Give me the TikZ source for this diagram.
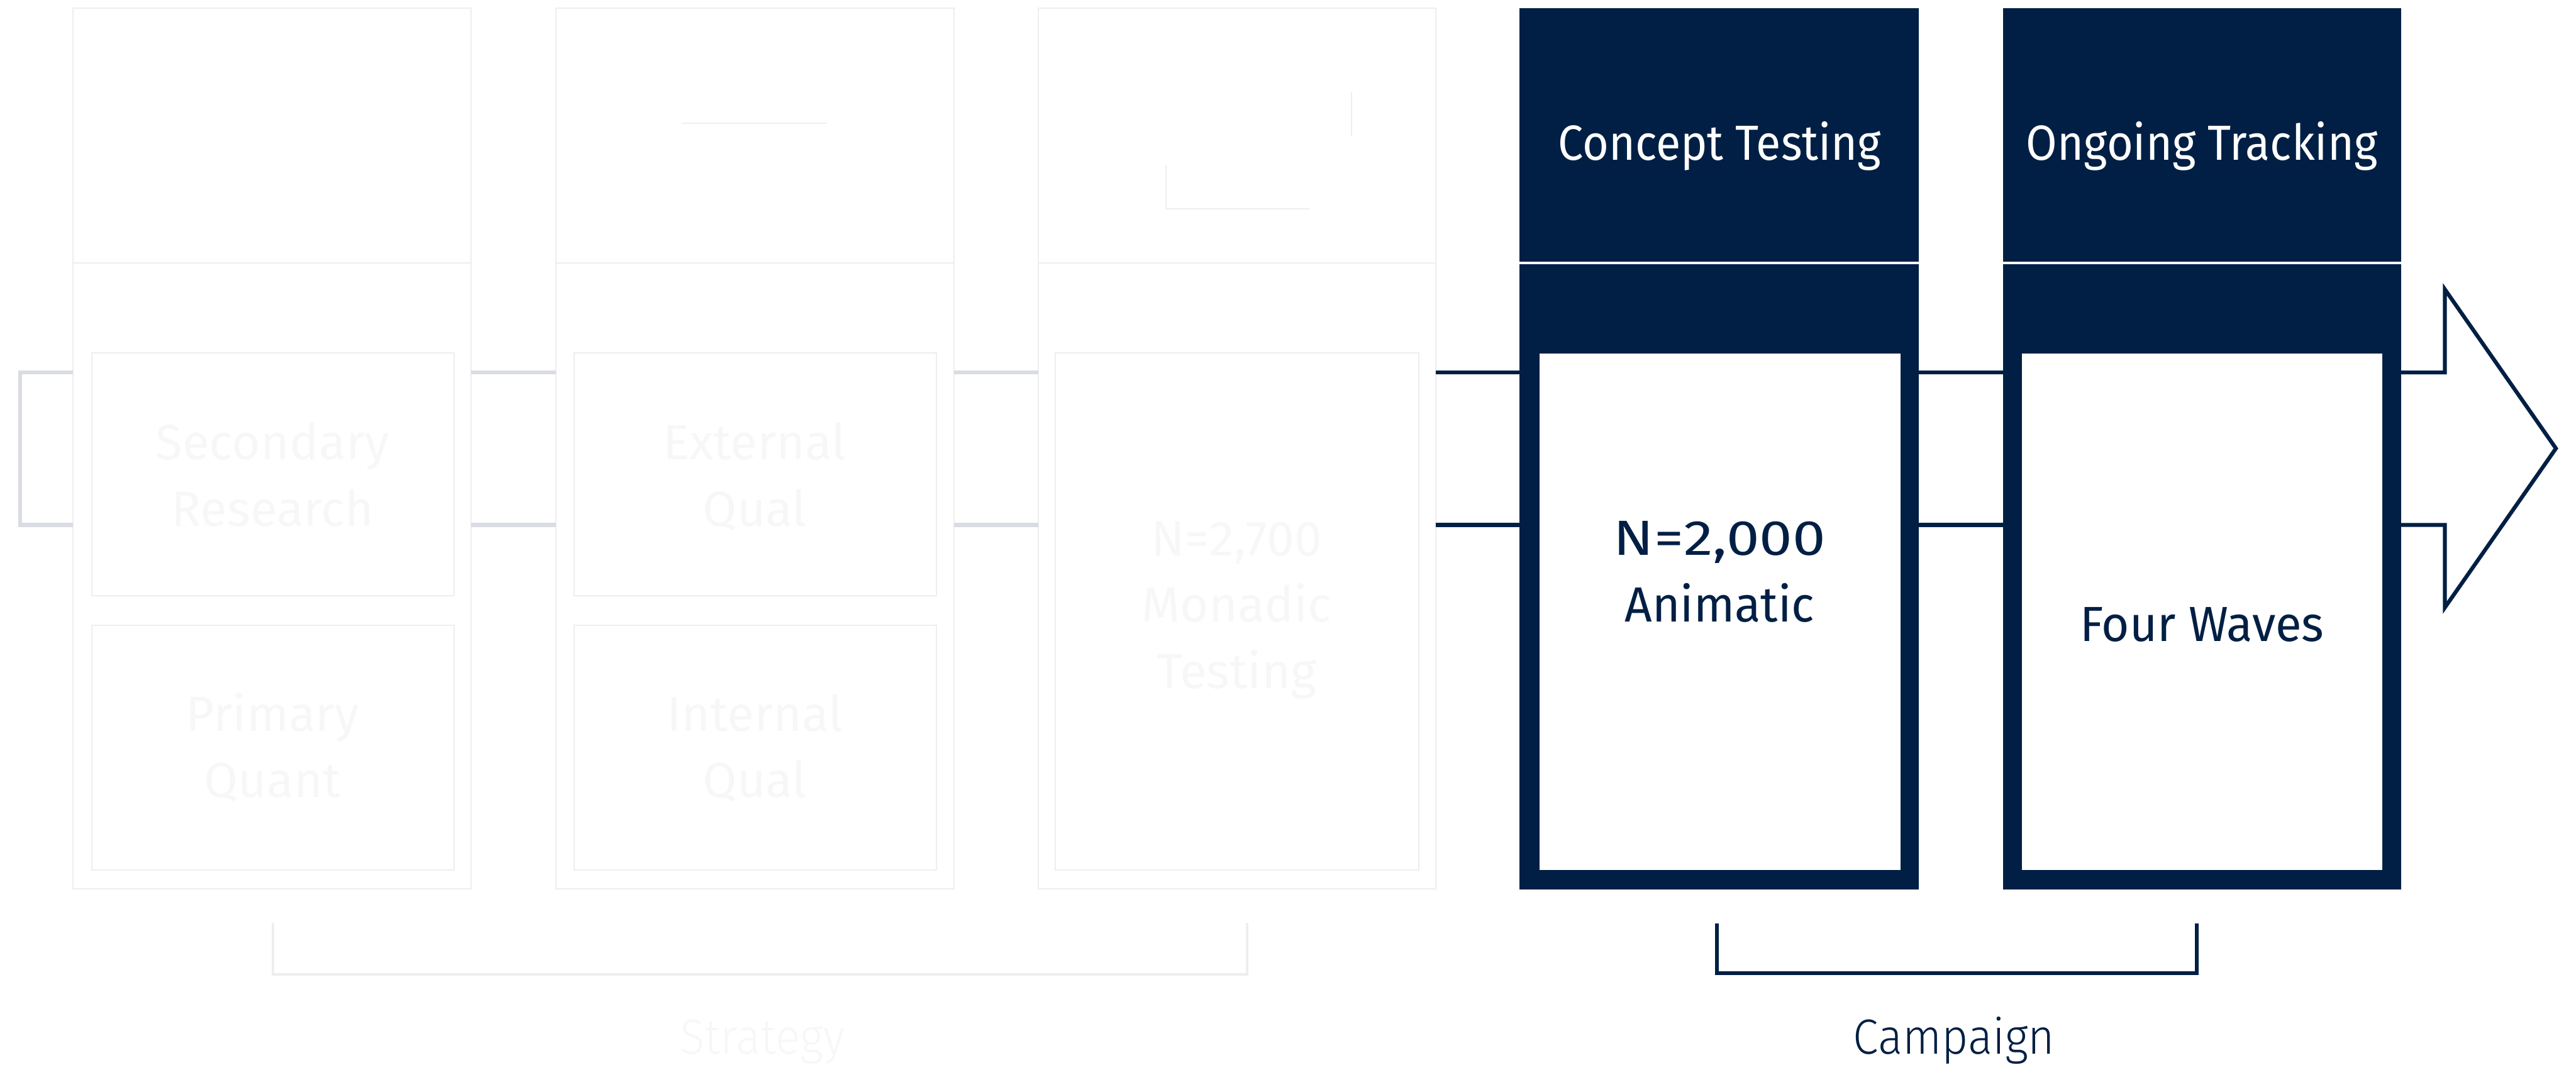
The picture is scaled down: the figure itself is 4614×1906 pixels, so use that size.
\documentclass[tikz,border=0pt]{standalone}
\usepackage{fontspec}
\setmainfont{Fira Sans}
\newfontfamily\lightfont{Fira Sans Light}[FakeStretch=0.93]
\newfontfamily\headfont{Fira Sans}[FakeStretch=0.915]
\newfontfamily\widefont{Fira Sans}[FakeStretch=1.2]
\newfontfamily\bodyfont{Fira Sans}[FakeStretch=0.97]
\definecolor{navy}{HTML}{011F44}
\definecolor{fadeline}{HTML}{EEEEEE}
\definecolor{fadelink}{HTML}{D9DCE3}
\definecolor{fadetext}{HTML}{F7F7F7}

\begin{document}
\begin{tikzpicture}[x=0.25pt,y=-0.25pt,
  pxbox/.style n args={4}{rectangle, anchor=north west, at={(#1,#2)},
    minimum width={(#3-#1)*0.25pt}, minimum height={(#4-#2)*0.25pt},
    inner sep=0pt, outer sep=0pt},
  darkblock/.style={fill=navy, draw=none},
  whitepanel/.style={fill=white, draw=none},
  fadeframe/.style={draw=fadeline, line width=0.6pt},
  bigtext/.style={font=\fontsize{22.1pt}{29.75pt}\selectfont, inner sep=0pt, anchor=base, align=center},
  headtext/.style={bigtext, font=\headfont\fontsize{22.1pt}{29.75pt}\selectfont, text=white},
  bodytext/.style={bigtext, font=\bodyfont\fontsize{22.1pt}{29.75pt}\selectfont, text=navy},
  fadetxt/.style={bigtext, text=fadetext},
  captext/.style={font=\lightfont\fontsize{22.1pt}{29.75pt}\selectfont, inner sep=0pt, anchor=base},
  darklink/.style={draw=navy, line width=1.75pt, line join=miter},
  fadelinkline/.style={draw=fadelink, line width=1.75pt},
  fadebracket/.style={draw=fadeline, line width=1pt},
]
\useasboundingbox (0,0) rectangle (4614,1906);

% heights of the two link lines
\coordinate (yA) at (0,667);
\coordinate (yB) at (0,940);

% ---------- faded strategy columns ----------
\node[pxbox={131}{15}{844}{1592}, fadeframe] (f1) {};
\node[pxbox={996}{15}{1709}{1592}, fadeframe] (f2) {};
\node[pxbox={1860}{15}{2572}{1592}, fadeframe] (f3) {};
\foreach \c in {f1,f2,f3}
  \draw[draw=fadeline, line width=0.6pt] (\c.west |- 0,471) -- (\c.east |- 0,471);

\node[pxbox={164}{632}{813}{1067}, fadeframe] (f1a) {};
\node[pxbox={164}{1120}{813}{1558}, fadeframe] (f1b) {};
\node[pxbox={1028}{632}{1677}{1067}, fadeframe] (f2a) {};
\node[pxbox={1028}{1120}{1677}{1558}, fadeframe] (f2b) {};
\node[pxbox={1890}{632}{2541}{1558}, fadeframe] (f3a) {};

% multi-line labels are placed by the baseline of their last line
\node[fadetxt] (t1a) at (488,942) {Secondary\\Research};
\node[fadetxt] (t1b) at (488,1428) {Primary\\Quant};
\node[fadetxt] (t2a) at (1352,942) {External\\Qual};
\node[fadetxt] (t2b) at (1352,1428) {Internal\\Qual};
\node[fadetxt] (t3a) at (2215,1233) {N=2,700\\Monadic\\Testing};

% faint marks left in the headers
\draw[draw=fadeline, line width=0.6pt] (1221,221) -- (1480,221);
\draw[draw=fadeline, line width=0.6pt] (2088,296) -- (2088,374) -- (2345,374);
\draw[draw=fadeline, line width=0.6pt] (2421,164) -- (2421,243);

% faint links
\coordinate (lb1) at (36,667);
\coordinate (lb2) at (36,940);
\draw[fadelinkline] (f1.west |- yA) -- (lb1) -- (lb2) -- (f1.west |- yB);
\draw[fadelinkline] (f1.east |- yA) -- (f2.west |- yA);
\draw[fadelinkline] (f1.east |- yB) -- (f2.west |- yB);
\draw[fadelinkline] (f2.east |- yA) -- (f3.west |- yA);
\draw[fadelinkline] (f2.east |- yB) -- (f3.west |- yB);

% strategy bracket
\coordinate (sb1) at (489,1652);
\coordinate (sb2) at (489,1745);
\coordinate (sb3) at (2234,1745);
\coordinate (sb4) at (2234,1652);
\draw[fadebracket] (sb1) -- (sb2) -- (sb3) -- (sb4);
\node[captext, text=fadetext] (strat) at (1366,1887) {Strategy};

% ---------- campaign columns ----------
\node[pxbox={2722}{15}{3437}{469}, darkblock] (cth) {};
\node[pxbox={2722}{473}{3437}{1593}, darkblock] (ctb) {};
\node[pxbox={2757}{633}{3404}{1558}, whitepanel] (cti) {};
\node[headtext] (ctt) at (3080,287) {Concept Testing};
\node[bodytext] (ctx) at (3080,1113) {{\widefont N=2,000}\\Animatic};

\node[pxbox={3588}{15}{4301}{469}, darkblock] (oth) {};
\node[pxbox={3588}{473}{4301}{1593}, darkblock] (otb) {};
\node[pxbox={3621}{633}{4267}{1558}, whitepanel] (oti) {};
\node[headtext] (ott) at (3944,287) {Ongoing Tracking};
\node[bodytext] (otx) at (3944,1148) {Four Waves};

% links between the campaign columns
\draw[darklink] (f3.east |- yA) -- (ctb.west |- yA);
\draw[darklink] (f3.east |- yB) -- (ctb.west |- yB);
\draw[darklink] (ctb.east |- yA) -- (otb.west |- yA);
\draw[darklink] (ctb.east |- yB) -- (otb.west |- yB);

% outlined arrow head
\coordinate (ar1) at (4379,667);
\coordinate (ar2) at (4379,518);
\coordinate (ar3) at (4578,803);
\coordinate (ar4) at (4379,1088);
\coordinate (ar5) at (4379,940);
\draw[darklink] (otb.east |- yA) -- (ar1) -- (ar2) -- (ar3) -- (ar4) -- (ar5) -- (otb.east |- yB);

% campaign bracket
\coordinate (cb1) at (3075,1654);
\coordinate (cb2) at (3075,1743);
\coordinate (cb3) at (3935,1743);
\coordinate (cb4) at (3935,1654);
\draw[darklink] (cb1) -- (cb2) -- (cb3) -- (cb4);
\node[captext, text=navy] (camp) at (3500,1887) {Campaign};
\end{tikzpicture}
\end{document}
